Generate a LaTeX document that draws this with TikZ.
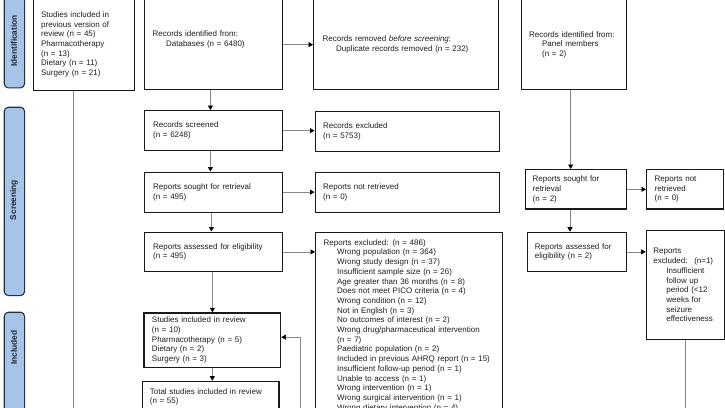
\documentclass[tikz,border=0pt]{standalone}
\usepackage{fontspec}
\setmainfont{Liberation Sans}
\usetikzlibrary{arrows.meta}
\definecolor{barblue}{RGB}{166,196,234}
\definecolor{bardark}{RGB}{40,48,62}
\definecolor{lin}{RGB}{135,135,135}
\definecolor{boxc}{RGB}{25,25,25}
\definecolor{txtc}{RGB}{30,30,30}
\begin{document}
\begin{tikzpicture}[x=1pt,y=-1pt,
  font=\fontsize{8}{9.7}\selectfont,
  box/.style={draw=boxc, line width=1.3pt, rectangle, fill=white, text=txtc,
    align=left, inner ysep=0pt, anchor=north west},
  bar/.style={draw=bardark, line width=1.1pt, fill=barblue, rounded corners=4pt,
    anchor=north west, minimum width=20.3pt, inner sep=0pt},
  bartxt/.style={rotate=90, font=\fontsize{8.3}{10}\selectfont\bfseries, text=bardark!80!black, inner sep=0pt},
  arr/.style={draw=lin, line width=0.7pt, -{Triangle[length=4.5pt,width=5pt,color=black]}},
  ln/.style={draw=lin, line width=0.7pt}]
\useasboundingbox (0,0) rectangle (725,407);
\clip (0,0) rectangle (725,407);
\fill[white] (0,0) rectangle (725,407);

% phase bars
\node[bar, minimum height=97.3pt] (idbar) at (3.7,-10) {};
\node[bartxt] (idtxt) at (14,41) {Identification};
\node[bar, minimum height=188.3pt] (scbar) at (3.7,106.7) {};
\node[bartxt] (sctxt) at (14,200) {Screening};
\node[bar, minimum height=120pt] (inbar) at (3.7,311.7) {};
\node[bartxt] (intxt) at (14,347.5) {Included};

% identification
\node[box, minimum height=91.5pt, text width=85.5pt, inner xsep=8pt] (prev) at (32.5,-2)
 {Studies included in\\previous version of\\review (n = 45)\\Pharmacotherapy\\(n = 13)\\Dietary (n = 11)\\Surgery (n = 21)};
\node[box, minimum height=100pt, text width=122pt, inner xsep=8pt] (db) at (144,-11)
 {Records identified from:\\\hspace*{13.5pt}Databases (n = 6480)};
\node[box, minimum height=90pt, text width=166.5pt, inner xsep=9pt] (removed) at (313,-1)
 {Records removed \textit{before screening}:\\\hspace*{13.5pt}Duplicate records removed (n = 232)};
\node[box, minimum height=90pt, text width=89pt, inner xsep=8pt] (panel) at (520.5,-1)
 {Records identified from:\\\hspace*{13pt}Panel members\\\hspace*{13pt}(n = 2)};

% screening (databases)
\node[box, minimum height=40pt, text width=120.5pt, inner xsep=8.5pt] (screened) at (144,110)
 {Records screened\\(n = 6248)};
\node[box, minimum height=40pt, text width=168pt, inner xsep=8pt] (excluded) at (314.5,110.5)
 {Records excluded\\(n = 5753)};
\node[box, minimum height=40pt, text width=120.5pt, inner xsep=8.5pt] (sought) at (144,171.5)
 {Reports sought for retrieval\\(n = 495)};
\node[box, minimum height=40pt, text width=168pt, inner xsep=8pt] (notret) at (314.5,172)
 {Reports not retrieved\\(n = 0)};
\node[box, minimum height=39.5pt, text width=120.5pt, inner xsep=8.5pt] (assessed) at (144,231.5)
 {Reports assessed for eligibility\\(n = 495)};
\node[box, minimum height=186pt, text width=171pt, inner xsep=8pt] (repexcl) at (315,232)
 {Reports excluded: (n = 486)\\
 \hspace*{13.5pt}Wrong population (n = 364)\\
 \hspace*{13.5pt}Wrong study design (n = 37)\\
 \hspace*{13.5pt}Insufficient sample size (n = 26)\\
 \hspace*{13.5pt}Age greater than 36 months (n = 8)\\
 \hspace*{13.5pt}Does not meet PICO criteria (n = 4)\\
 \hspace*{13.5pt}Wrong condition (n = 12)\\
 \hspace*{13.5pt}Not in English (n = 3)\\
 \hspace*{13.5pt}No outcomes of interest (n = 2)\\
 \hspace*{13.5pt}Wrong drug/pharmaceutical intervention\\
 \hspace*{13.5pt}(n = 7)\\
 \hspace*{13.5pt}Paediatric population (n = 2)\\
 \hspace*{13.5pt}Included in previous AHRQ report (n = 15)\\
 \hspace*{13.5pt}Insufficient follow-up period (n = 1)\\
 \hspace*{13.5pt}Unable to access (n = 1)\\
 \hspace*{13.5pt}Wrong intervention (n = 1)\\
 \hspace*{13.5pt}Wrong surgical intervention (n = 1)\\
 \hspace*{13.5pt}Wrong dietary intervention (n = 4)};

% included
\node[box, minimum height=54.4pt, text width=120.7pt, inner xsep=8pt] (studies) at (143.3,312.3)
 {Studies included in review\\(n = 10)\\Pharmacotherapy (n = 5)\\Dietary (n = 2)\\Surgery (n = 3)};
\node[box, minimum height=31pt, text width=121.6pt, inner xsep=7.5pt] (total) at (141.7,380.7)
 {Total studies included in review\\(n = 55)};

% right column (panel)
\node[box, minimum height=39.3pt, text width=86.7pt, inner xsep=7pt] (rsought) at (525,169)
 {Reports sought for\\retrieval\\(n = 2)};
\node[box, minimum height=39.3pt, text width=61pt, inner xsep=8pt] (rnotret) at (646,169)
 {Reports not\\retrieved\\(n = 0)};
\node[box, minimum height=39pt, text width=83.8pt, inner xsep=7.6pt] (rassessed) at (526.7,231.7)
 {Reports assessed for\\eligibility (n = 2)};
\node[box, minimum height=109pt, text width=64pt, inner xsep=7pt] (rexcl) at (645.7,230)
 {Reports\\excluded: \ (n=1)\\
 \hspace*{13pt}Insufficient\\
 \hspace*{13pt}follow up\\
 \hspace*{13pt}period (<12\\
 \hspace*{13pt}weeks for\\
 \hspace*{13pt}seizure\\
 \hspace*{13pt}effectiveness};

% free ends below the picture
\coordinate (pout) at (72.7,430);
\coordinate (rin) at (300,430);
\coordinate (rout) at (684,430);

% connectors
\draw[ln] ([xshift=-10.3pt]prev.south) -- ([xshift=-10.3pt]prev.south |- pout);
\draw[arr] (db.east |- removed.west) -- (removed.west);
\draw[arr] ([xshift=-3pt]screened.north |- db.south) -- ([xshift=-3pt]screened.north);
\draw[arr] (screened.east) -- (screened.east -| excluded.west);
\draw[arr] ([xshift=-3pt]screened.south) -- ([xshift=-3pt]screened.south |- sought.north);
\draw[arr] (sought.east) -- (sought.east -| notret.west);
\draw[arr] ([xshift=-2pt]sought.south) -- ([xshift=-2pt]sought.south |- assessed.north);
\draw[arr] (assessed.east) -- (assessed.east -| repexcl.west);
\draw[arr] ([xshift=-1pt]assessed.south) -- ([xshift=-1pt]assessed.south |- studies.north);
\draw[arr] (studies.south) -- (studies.south |- total.north);
\draw[arr] (rin) |- ([yshift=3pt]studies.east);
\draw[arr] ([xshift=-3pt]panel.south) -- ([xshift=-3pt]panel.south |- rsought.north);
\draw[arr] (rsought.east) -- (rsought.east -| rnotret.west);
\draw[arr] ([xshift=-6pt]rsought.south) -- ([xshift=-6pt]rsought.south |- rassessed.north);
\draw[arr] (rassessed.east) -- (rassessed.east -| rexcl.west);
\draw[ln] (rexcl.south) -- (rexcl.south |- rout);
\end{tikzpicture}
\end{document}
